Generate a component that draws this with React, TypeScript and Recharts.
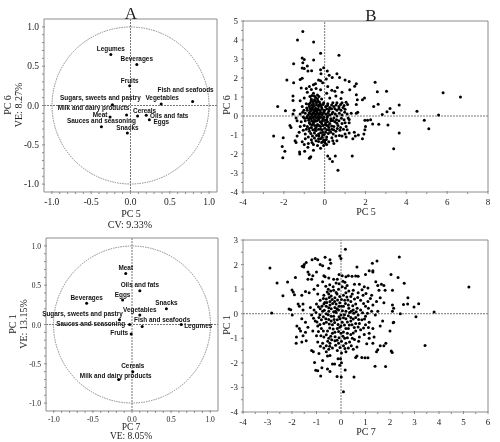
import { ScatterChart, Scatter, XAxis, YAxis, ReferenceLine, ReferenceDot, LabelList } from "recharts";

// loadings, panel A (PC5 / PC6) and panel C (PC7 / PC1)
const foodGroupsA = ["Legumes", "Beverages", "Fruits", "Fish and seafoods", "Vegetables", "Sugars, sweets and pastry", "Milk and dairy products", "Cereals", "Oils and fats", "Eggs", "Meat", "Sauces and seasoning", "Snacks"];
const pc5Load = [-0.25, 0.08, -0.01, 0.79, 0.39, -0.23, -0.05, 0.09, 0.2, 0.24, -0.26, -0.37, -0.04];
const pc6Load = [0.65, 0.52, 0.25, 0.05, 0.02, 0.01, -0.12, -0.135, -0.125, -0.18, -0.145, -0.27, -0.35];
const labelShiftA = [[0, -5], [0, -5], [0, -5], [-7, -11], [1, -6], [-12, -6], [-33, -7], [7, -5], [23, 1], [12, 3], [-10, -2], [0, -5], [0, -5]];

const foodGroupsC = ["Meat", "Oils and fats", "Eggs", "Beverages", "Snacks", "Vegetables", "Sugars, sweets and pastry", "Sauces and seasoning", "Fish and seafoods", "Legumes", "Fruits", "Cereals", "Milk and dairy products"];
const pc7Load = [-0.08, 0.1, -0.12, -0.58, 0.44, 0.1, -0.16, -0.03, 0.13, 0.63, -0.01, 0.01, -0.17];
const pc1Load = [0.65, 0.43, 0.31, 0.27, 0.2, 0.12, 0.06, 0, -0.025, 0, -0.12, -0.6, -0.7];
const labelShiftC = [[0, -5], [0, -5], [0, -5], [0, -5], [0, -5], [0, -5], [-37, -5], [-39, 0], [20, -6], [17, 2], [-12, -1], [0, -5], [-3, -3]];

// scores, panel B: PC5, PC6
const scoresB = [
  [-1.07, 4.45], [-1.33, 4.0], [-0.54, 3.9], [-0.2, 3.3], [0.7, 3.2], [-1.1, 3.05], [-1.0, 2.97], [-0.54, 2.95], [-1.52, 2.75], [-1.07, 2.8],
  [-0.85, 2.63], [-1.1, 2.52], [-1.0, 2.5], [-0.64, 2.38], [-0.82, 2.37], [-0.05, 2.54], [-0.2, 2.43], [0.13, 2.37], [-0.18, 2.23], [0.6, 2.23],
  [0.22, 2.14], [0.37, 2.02], [0.73, 2.02], [-1.85, 1.9], [-1.52, 1.75], [-1.2, 1.92], [-1.1, 1.99], [1.0, 1.9], [1.2, 1.82], [1.55, 1.7],
  [1.47, 1.56], [1.23, 1.38], [2.47, 1.78], [2.58, 1.28], [3.03, 1.3], [5.8, 1.22], [6.65, 1.0], [-0.3, 1.9], [-0.2, 1.85], [-0.45, 1.7],
  [-0.55, 1.65], [-0.1, 1.75], [0.08, 1.95], [-0.75, 1.55], [-0.9, 1.45], [-1.15, 1.48], [-0.85, 1.25], [-0.65, 1.4], [-0.42, 1.45], [-0.2, 1.38],
  [0.15, 1.55], [0.35, 1.35], [0.5, 1.3], [0.85, 1.25], [0.62, 1.5], [1.55, 1.12], [1.6, 0.85], [1.95, 0.95], [1.85, 0.85], [1.55, 0.6],
  [1.62, 0.2], [1.55, 0.15], [2.4, 0.5], [2.62, 0.62], [3.2, 0.4], [3.38, 0.17], [3.05, 0.22], [2.82, 0.08], [3.65, 0.58], [4.52, 0.25],
  [5.58, 0.05], [4.88, -0.23], [5.1, -0.67], [3.65, -0.9], [3.38, -1.72], [3.1, -0.47], [2.65, -0.43], [2.35, -0.42], [2.25, -0.2], [2.1, -0.22],
  [1.97, -0.22], [2.0, -0.55], [1.97, -0.72], [1.92, -0.95], [1.85, -1.2], [1.65, -1.0], [1.5, -1.05], [1.45, -0.85], [1.38, -1.2], [1.2, -0.9],
  [1.05, -1.1], [1.0, -0.95], [0.85, -1.05], [1.35, -2.1], [0.65, -2.85], [0.38, -2.4], [0.52, -2.1], [0.25, -2.25], [0.15, -2.1], [-0.55, -1.8],
  [-0.68, -2.15], [-0.72, -2.2], [-0.75, -2.22], [-1.23, -1.9], [-1.22, -2.0], [-0.98, -1.85], [-0.82, -1.65], [-1.95, -1.85], [-2.05, -2.2], [-2.08, -1.6],
  [-2.03, -1.15], [-2.5, -1.05], [-1.7, -0.5], [-1.65, -0.6], [-1.4, -0.1], [-1.35, -0.25], [-1.55, 0.1], [-1.5, 0.3], [-1.92, 0.27], [-2.3, 0.5],
  [-1.55, 0.82], [-1.55, 1.05], [-1.2, 0.8], [-1.0, 0.95], [-1.45, -1.3], [-1.35, -1.05], [-1.25, -0.85], [-1.4, -1.4], [-1.1, -1.35], [-1.0, -1.5],
  [-0.8, -1.45], [-0.65, -1.25], [-0.55, -1.5], [-0.35, -1.55], [-0.2, -1.7], [-0.05, -1.55], [0.1, -1.5], [0.45, -1.45], [0.6, -1.3], [0.2, -1.35],
  [-0.15, -1.4], [-0.3, -1.2], [-0.05, -1.25], [0.1, -1.1], [0.35, -1.15], [0.55, -1.05], [-0.6, -1.05], [-0.8, -1.1], [-0.95, -0.95], [-1.05, -0.75],
  [-0.75, -0.8], [-0.5, -0.9], [-0.3, -0.95], [-0.1, -1.0], [0.05, -0.85], [0.3, -0.85], [0.55, -0.8], [0.75, -0.75], [-1.0, -0.5], [-0.85, -0.55],
  [-0.65, -0.6], [-0.45, -0.65], [-0.2, -0.7], [0.0, -0.65], [0.2, -0.6], [0.45, -0.55], [0.65, -0.5], [0.85, -0.4], [1.05, -0.55], [1.2, -0.35],
  [-1.15, -0.3], [-0.95, -0.25], [-0.75, -0.35], [-0.55, -0.4], [-0.35, -0.45], [-0.15, -0.4], [0.05, -0.35], [0.25, -0.4], [0.5, -0.3], [0.7, -0.25],
  [0.95, -0.2], [1.15, -0.1], [-1.05, -0.05], [-0.85, -0.1], [-0.65, -0.15], [-0.5, -0.2], [-0.3, -0.2], [-0.1, -0.15], [0.1, -0.2], [0.3, -0.15],
  [0.45, -0.1], [0.6, 0.0], [0.85, 0.05], [1.1, 0.1], [1.3, 0.15], [-1.2, 0.1], [-0.95, 0.15], [-0.8, 0.05], [-0.62, 0.0], [-0.45, 0.05],
  [-0.3, 0.0], [-0.12, 0.05], [0.05, 0.1], [0.25, 0.05], [-0.85, 0.3], [-0.7, 0.25], [-0.55, 0.2], [-0.38, 0.25], [-0.2, 0.2], [0.0, 0.3],
  [0.2, 0.25], [0.4, 0.2], [0.6, 0.3], [0.8, 0.3], [1.0, 0.35], [-0.75, 0.5], [-0.6, 0.45], [-0.45, 0.42], [-0.3, 0.5], [-0.15, 0.45],
  [0.05, 0.5], [0.25, 0.45], [0.45, 0.5], [0.7, 0.5], [0.95, 0.55], [1.12, 0.6], [-0.9, 0.65], [-0.7, 0.7], [-0.55, 0.65], [-0.4, 0.7],
  [-0.22, 0.65], [-0.05, 0.7], [0.15, 0.65], [0.4, 0.7], [0.6, 0.7], [0.85, 0.7], [1.05, 0.72], [-0.65, 0.9], [-0.5, 0.85], [-0.35, 0.9],
  [-0.5, 1.05], [-0.35, 1.1], [-0.55, 1.2], [-0.15, 0.9], [0.25, 0.95], [0.8, 0.92], [0.1, 1.2], [0.55, 1.05], [-0.7, -0.05], [-0.55, -0.3],
  [-0.4, -0.55], [-0.25, -0.1], [-0.6, 0.35], [-0.4, 0.1], [-0.35, 0.35], [-0.5, -0.75], [-0.2, -0.55], [0.1, -0.5], [0.35, -0.7], [-0.42, -1.3],
  [-0.28, -1.05], [-0.12, -1.12], [0.02, -1.42], [-0.1, -0.85], [-0.9, -0.7], [-1.2, -0.55], [-0.95, -1.2], [0.72, -1.02], [0.4, -1.3], [0.3, -0.25],
  // dense middle of the cloud
  [-0.72, 1.02], [-0.62, 1.08], [-0.44, 0.98], [-0.28, 1.02], [-0.66, 0.82], [-0.58, 0.76], [-0.46, 0.78], [-0.34, 0.8], [-0.26, 0.74], [-0.78, 0.62],
  [-0.64, 0.56], [-0.52, 0.54], [-0.4, 0.58], [-0.28, 0.58], [-0.18, 0.55], [-0.08, 0.6], [-0.72, 0.4], [-0.66, 0.34], [-0.54, 0.33], [-0.48, 0.28],
  [-0.42, 0.32], [-0.3, 0.34], [-0.24, 0.3], [-0.12, 0.36], [-0.04, 0.22], [0.1, 0.38], [-0.76, 0.16], [-0.68, 0.12], [-0.58, 0.1], [-0.5, 0.14],
  [-0.36, 0.16], [-0.28, 0.12], [-0.2, 0.1], [-0.08, 0.14], [-0.86, -0.02], [-0.74, -0.12], [-0.56, -0.08], [-0.48, -0.04], [-0.4, -0.1], [-0.34, -0.06],
  [-0.18, -0.04], [-0.04, -0.06], [0.14, 0.0], [-0.78, -0.22], [-0.64, -0.26], [-0.46, -0.28], [-0.38, -0.25], [-0.22, -0.3], [-0.12, -0.28], [0.0, -0.22],
  [0.14, -0.3], [-0.7, -0.44], [-0.6, -0.48], [-0.48, -0.5], [-0.28, -0.5], [-0.08, -0.5], [0.02, -0.46], [0.18, -0.5], [0.34, -0.52], [-0.76, -0.66],
  [-0.58, -0.72], [-0.42, -0.76], [-0.3, -0.7], [-0.12, -0.72], [0.1, -0.72], [0.22, -0.75], [0.44, -0.72], [-0.68, -0.92], [-0.4, -1.02], [-0.2, -0.88],
  [-0.02, -0.98], [0.18, -0.92], [0.42, -0.95], [-0.5, -1.16], [-0.2, -1.2], [-0.08, -1.34], [0.08, -1.24], [-0.3, -1.34], [-0.62, -1.4], [0.0, -1.3],
  [0.16, 0.14], [0.36, 0.12], [0.52, 0.1], [0.72, 0.14], [0.98, 0.2], [0.12, -0.08], [0.22, 0.34], [0.34, 0.38], [0.5, 0.38], [0.7, 0.4],
  [0.9, 0.45], [0.14, 0.55], [0.34, 0.58], [0.56, 0.58], [0.78, 0.6], [1.2, -0.18], [1.0, -0.35], [0.82, -0.12], [0.58, -0.2], [0.4, -0.24],
  [0.6, -0.38], [0.78, -0.6], [0.92, -0.7], [1.1, -0.72], [0.62, -0.66], [-0.88, 0.42], [-1.02, 0.3], [-1.1, 0.5], [-0.98, -0.12], [-1.08, 0.2],
];

// scores, panel D: PC7, PC1
const scoresD = [
  [0.18, 2.62], [2.38, 2.31], [5.22, 1.09], [-2.9, 1.86], [-2.61, 1.25], [-2.18, 1.29], [-1.86, 1.47], [-2.37, 0.73], [-2.83, 0.03], [-2.0, 0.97],
  [-1.95, 0.88], [-1.9, 0.77], [-2.12, 0.19], [-2.05, 0.16], [-1.99, -0.05], [3.8, 0.07], [3.17, 0.41], [2.98, 0.27], [3.06, -0.12], [2.73, 0.65],
  [2.72, 0.4], [2.55, 0.37], [2.58, 1.24], [2.33, 1.47], [2.04, 1.6], [3.43, -1.29], [1.82, -2.15], [1.39, -2.14], [0.53, -2.58], [0.1, -3.18],
  [-0.16, -2.56], [0.01, -2.58], [-0.83, -2.53], [-1.03, -2.3], [-0.95, -2.32], [-0.78, -2.2], [-0.55, -2.25], [-0.45, -2.35], [-0.35, -2.05], [-0.26, -2.05],
  [-0.05, -2.1], [0.02, -2.0], [0.17, -2.29], [-1.08, -1.99], [-0.75, -1.9], [-0.12, -1.83], [-0.02, -1.83], [0.85, -1.78], [0.98, -1.79], [1.1, -1.79],
  [0.65, -1.72], [0.6, -1.78], [2.05, -1.52], [2.09, -1.58], [1.83, -1.2], [1.45, -1.55], [1.5, -1.47], [1.75, -1.3], [1.6, -1.3], [1.3, -1.2],
  [1.05, -1.22], [-1.2, -1.5], [-1.13, -1.55], [-1.83, -1.2], [-1.82, -0.95], [-1.6, -1.15], [-1.42, -1.1], [-1.55, -0.9], [-1.65, -0.7], [-1.8, -0.5],
  [-1.7, -0.6], [-1.35, -0.55], [-1.45, -0.75], [-1.6, 0.75], [-1.45, 0.9], [-1.55, 0.4], [-1.75, 0.4], [-1.7, 0.3], [-1.55, 0.15], [-1.6, -0.2],
  [-1.45, -0.35], [-1.3, 0.85], [-1.2, 1.4], [-1.1, 1.0], [-1.25, 0.25], [-1.5, 2.0], [-1.58, 1.93], [-1.52, 1.9], [-1.42, 2.08], [-1.18, 2.2],
  [-1.05, 2.25], [-0.95, 2.2], [-0.85, 2.0], [-0.75, 1.95], [-0.65, 2.3], [-0.45, 2.2], [-0.42, 2.05], [-0.5, 1.85], [-0.05, 2.35], [0.0, 2.25],
  [-1.35, 1.7], [-1.3, 1.6], [-1.15, 1.55], [-1.35, 1.4], [-1.0, 1.7], [-0.7, 1.55], [-0.65, 1.5], [-0.95, 1.15], [-0.75, 1.3], [-0.5, 1.45],
  [-0.3, 1.4], [-0.2, 1.25], [-0.08, 1.6], [0.05, 1.55], [0.2, 1.5], [0.3, 1.55], [0.45, 1.52], [0.6, 1.53], [0.7, 1.52], [0.65, 1.9],
  [1.0, 1.6], [1.15, 1.75], [1.3, 1.7], [1.3, 1.75], [1.28, 2.05], [1.47, 2.15], [1.42, 1.3], [1.5, 1.15], [1.65, 1.2], [1.75, 1.15],
  [1.8, 0.95], [1.55, 0.95], [2.1, 0.95], [2.1, 0.35], [2.15, 0.22], [2.1, 0.1], [2.42, 0.0], [2.13, -0.37], [2.0, -0.7], [2.15, -0.35],
  [1.6, 0.65], [1.75, 0.45], [1.45, 0.5], [1.25, 0.75], [1.1, 1.05], [0.95, 1.1], [0.75, 1.2], [0.55, 1.2], [0.5, 0.95], [0.7, 0.85],
  [0.9, 0.75], [1.1, 0.5], [1.3, 0.35], [1.5, 0.1], [1.4, -0.05], [1.7, -0.3], [1.6, -0.5], [1.3, -0.6], [1.15, -0.35], [1.0, -0.1],
  [0.8, 0.15], [0.6, 0.4], [0.4, 0.7], [0.2, 0.85], [0.05, 1.1], [-0.1, 1.0], [-0.3, 0.95], [-0.5, 0.8], [-0.7, 0.75], [-0.85, 0.55],
  [-1.0, 0.4], [-1.1, 0.15], [-1.2, -0.05], [-1.05, -0.3], [-0.9, -0.15], [-0.75, 0.1], [-0.6, 0.3], [-0.45, 0.5], [-0.25, 0.65], [-0.05, 0.7],
  [0.15, 0.55], [0.3, 0.35], [0.5, 0.15], [0.7, -0.05], [0.85, -0.25], [1.0, -0.45], [0.8, -0.65], [0.6, -0.4], [0.4, -0.15], [0.2, 0.1],
  [0.02, 0.3], [-0.2, 0.4], [-0.4, 0.2], [-0.6, 0.0], [-0.8, -0.25], [-0.95, -0.5], [-1.15, -0.7], [-1.0, -0.9], [-0.8, -0.6], [-0.6, -0.35],
  [-0.4, -0.1], [-0.2, 0.05], [0.0, -0.05], [0.2, -0.2], [0.45, -0.45], [0.6, -0.7], [0.4, -0.85], [0.2, -0.6], [0.05, -0.35], [-0.15, -0.25],
  [-0.35, -0.45], [-0.55, -0.7], [-0.7, -0.95], [-0.5, -1.0], [-0.35, -0.8], [-0.15, -0.6], [0.0, -0.8], [0.15, -1.0], [0.35, -1.15], [0.55, -1.05],
  [0.75, -0.95], [0.95, -0.85], [1.15, -0.8], [1.35, -0.95], [-0.95, -1.15], [-0.75, -1.2], [-0.6, -1.3], [-0.45, -1.2], [-0.25, -1.1], [-0.1, -1.2],
  [0.1, -1.3], [0.3, -1.4], [0.5, -1.45], [0.65, -1.35], [-0.7, -1.4], [-0.6, -1.55], [-0.5, -1.45], [-0.35, -1.4], [-0.15, -1.5], [0.02, -1.6],
  [0.2, -1.55], [-0.9, -1.62], [-0.55, -1.72], [-0.45, -1.7], [-0.4, -0.3], [-0.3, -0.1], [-0.5, 0.1], [-0.1, 0.15], [0.1, 0.3], [0.35, 0.05],
  [-0.25, 0.25], [-0.7, 0.4], [-0.85, 0.2], [-0.95, 0.8], [-0.6, 0.6], [0.55, 0.6], [0.8, 0.55], [1.0, 0.3], [1.25, 0.1], [1.15, -1.0],
  [0.3, -0.6], [-0.05, -0.55], [-0.25, -0.75], [0.6, -0.15], [0.75, -0.4], [-0.45, 0.35], [-0.05, 0.45], [0.1, 0.75], [0.25, 1.15], [-0.15, 1.4],
  // dense middle of the cloud
  [-0.62, 1.12], [-0.46, 1.18], [-0.32, 1.1], [-0.52, 1.0], [-0.42, 0.92], [-0.2, 0.86], [-0.08, 1.22], [0.08, 1.32], [0.16, 1.28], [0.18, 1.05],
  [-0.72, 0.62], [-0.48, 0.66], [-0.36, 0.58], [-0.14, 0.56], [0.02, 0.58], [0.24, 0.68], [0.4, 0.5], [0.68, 0.66], [0.86, 0.98], [1.02, 0.82],
  [-0.92, 0.28], [-0.78, 0.3], [-0.58, 0.46], [-0.5, 0.24], [-0.34, 0.42], [-0.26, 0.5], [-0.08, 0.3], [0.18, 0.42], [0.32, 0.22], [0.48, 0.32],
  [0.66, 0.22], [0.92, 0.42], [1.12, 0.22], [1.2, 0.62], [-1.02, 0.05], [-0.86, -0.04], [-0.68, 0.14], [-0.52, -0.04], [-0.3, 0.08], [-0.16, 0.2],
  [0.06, 0.12], [0.14, -0.04], [0.3, -0.08], [0.52, 0.02], [0.62, 0.08], [0.88, 0.04], [1.08, 0.02], [-1.12, -0.18], [-0.98, -0.34], [-0.72, -0.12],
  [-0.62, -0.2], [-0.5, -0.24], [-0.28, -0.24], [-0.08, -0.12], [0.1, -0.16], [0.26, -0.34], [0.4, -0.3], [0.5, -0.22], [0.72, -0.24], [0.96, -0.22],
  [-0.86, -0.44], [-0.7, -0.4], [-0.48, -0.42], [-0.26, -0.36], [-0.12, -0.44], [0.0, -0.5], [0.14, -0.46], [0.34, -0.46], [0.54, -0.56], [0.7, -0.54],
  [0.92, -0.58], [1.12, -0.56], [-0.92, -0.72], [-0.72, -0.7], [-0.46, -0.58], [-0.32, -0.62], [-0.1, -0.72], [0.1, -0.74], [0.26, -0.8], [0.5, -0.78],
  [-0.82, -0.9], [-0.6, -0.86], [-0.42, -0.92], [-0.24, -0.94], [-0.08, -0.98], [0.08, -0.92], [0.26, -0.98], [0.46, -1.0], [0.72, -1.12], [-0.84, -1.32],
  [-0.54, -1.12], [-0.38, -1.06], [-0.16, -1.08], [0.02, -1.12], [0.2, -1.2], [-0.46, -1.32], [-0.22, -1.28], [-0.04, -1.38], [0.16, -1.42], [0.42, -1.3],
  [-0.4, 0.72], [-0.16, 0.8], [0.32, 0.92], [0.46, 0.8], [0.28, 0.56], [-0.56, 0.88], [-0.66, 0.46], [-0.22, 0.1], [-0.04, -0.2], [0.42, 0.1],
];

const boxStyle = { position: "absolute", fontFamily: "'Liberation Serif', serif", color: "#222", whiteSpace: "nowrap" } as const;
const frameColor = "#8c8c8c";

const toPoints = (xs: number[], ys: number[], names: string[]) => xs.map((x, i) => ({ x, y: ys[i], name: names[i] }));
const asPoints = (rows: number[][]) => rows.map(([x, y]) => ({ x, y }));

const Dot = (props: any) => <circle cx={props.cx} cy={props.cy} r={1.5} fill="#000" />;

// axis ticks sit inside the frame, only the listed values get a number
const bottomTick = (labels: number[], size: number, digits: number, drop = 11) => ({ x, y, payload }: any) => {
  const major = labels.includes(payload.value);
  return (
    <g>
      <line x1={x} x2={x} y1={y} y2={y - (major ? 3 : 2)} stroke={frameColor} />
      {major && <text x={x} y={y + drop} textAnchor="middle" fontSize={size} fontFamily="'Liberation Serif', serif" fill="#222">{payload.value.toFixed(digits)}</text>}
    </g>
  );
};
const leftTick = (labels: number[], size: number, digits: number) => ({ x, y, payload }: any) => {
  const major = labels.includes(payload.value);
  return (
    <g>
      <line x1={x} x2={x + (major ? 3 : 2)} y1={y} y2={y} stroke={frameColor} />
      {major && <text x={x - 3} y={y + 3} textAnchor="end" fontSize={size} fontFamily="'Liberation Serif', serif" fill="#222">{payload.value.toFixed(digits)}</text>}
    </g>
  );
};
const topTick = ({ x, y }: any) => <line x1={x} x2={x} y1={y} y2={y + 2} stroke={frameColor} />;
const rightTick = ({ x, y }: any) => <line x1={x} x2={x - 2} y1={y} y2={y} stroke={frameColor} />;

const FrameAxes = ({ xDomain, yDomain, xMinor, yMinor }: any) => [
  <XAxis key="t" xAxisId="top" orientation="top" type="number" domain={xDomain} ticks={xMinor} interval={0} height={1} tickSize={0} tick={topTick} stroke={frameColor} />,
  <YAxis key="r" yAxisId="right" orientation="right" type="number" domain={yDomain} ticks={yMinor} interval={0} width={1} tickSize={0} tick={rightTick} stroke={frameColor} />,
];

const loadTicks = [-1, -0.5, 0, 0.5, 1];
const loadMinor = [-1, -0.9, -0.8, -0.7, -0.6, -0.5, -0.4, -0.3, -0.2, -0.1, 0, 0.1, 0.2, 0.3, 0.4, 0.5, 0.6, 0.7, 0.8, 0.9, 1];

const LoadingChart = ({ left, top, width, height, margin, yWidth, data, shifts, fontSize, drop }: any) => {
  const domain = [-1.1, 1.1];
  return (
    <div style={{ position: "absolute", left, top }}>
      <ScatterChart width={width} height={height} margin={margin}>
        <XAxis type="number" dataKey="x" domain={domain} ticks={loadMinor} interval={0} tick={bottomTick(loadTicks, fontSize, 1, drop)} tickSize={0} height={28} stroke={frameColor} />
        <YAxis type="number" dataKey="y" domain={domain} ticks={loadMinor} interval={0} tick={leftTick(loadTicks, fontSize, 1)} tickSize={0} width={yWidth} stroke={frameColor} />
        {FrameAxes({ xDomain: domain, yDomain: domain, xMinor: loadMinor, yMinor: loadMinor })}
        <ReferenceLine x={0} stroke="#777" strokeDasharray="2 1" />
        <ReferenceLine y={0} segment={[{ x: -1, y: 0 }, { x: 1, y: 0 }]} stroke="#777" strokeDasharray="2 1" />
        <ReferenceDot x={0} y={0} r={78.5} fill="none" stroke="#888" strokeDasharray="1.5 1" />
        <Scatter data={data} shape={Dot} isAnimationActive={false}>
          <LabelList
            dataKey="name"
            content={(p: any) => (
              <text x={p.x + p.width / 2 + shifts[p.index][0]} y={p.y + p.height / 2 + shifts[p.index][1]} textAnchor="middle" dominantBaseline="middle" fontSize={6.4} fontWeight="bold" fontFamily="'Liberation Sans', sans-serif" fill="#111">
                {p.value}
              </text>
            )}
          />
        </Scatter>
      </ScatterChart>
    </div>
  );
};

const ScoreChart = ({ left, top, width, height, margin, data, xDomain, yDomain, xMinor, yMinor, xLabels, yLabels }: any) => (
  <div style={{ position: "absolute", left, top }}>
    <ScatterChart width={width} height={height} margin={margin}>
      <XAxis type="number" dataKey="x" domain={xDomain} ticks={xMinor} interval={0} tick={bottomTick(xLabels, 9, 0)} tickSize={0} height={28} stroke={frameColor} />
      <YAxis type="number" dataKey="y" domain={yDomain} ticks={yMinor} interval={0} tick={leftTick(yLabels, 9, 0)} tickSize={0} width={14} stroke={frameColor} />
      {FrameAxes({ xDomain, yDomain, xMinor, yMinor })}
      <ReferenceLine x={0} stroke="#777" strokeDasharray="2 1" />
      <ReferenceLine y={0} stroke="#777" strokeDasharray="2 1" />
      <Scatter data={data} shape={Dot} isAnimationActive={false} />
    </ScatterChart>
  </div>
);

const Caption = ({ x, y, size = 10, rotate, children }: any) => (
  <div style={{ ...boxStyle, left: x, top: y, fontSize: size, lineHeight: 1, transform: `translate(-50%, -50%)${rotate ? " rotate(-90deg)" : ""}` }}>{children}</div>
);

export default function App() {
  return (
    <div style={{ position: "absolute", left: 0, top: 0, width: 500, height: 442, background: "#fff", overflow: "hidden", filter: "blur(0.3px)" }}>
      <LoadingChart left={0} top={0} width={240} height={220} margin={{ top: 18, right: 22, bottom: 0, left: 0 }} yWidth={44} data={toPoints(pc5Load, pc6Load, foodGroupsA)} shifts={labelShiftA} fontSize={9.5} />
      <ScoreChart left={226} top={0} width={270} height={220} margin={{ top: 20, right: 7, bottom: 0, left: 3 }} data={asPoints(scoresB)} xDomain={[-4, 8]} yDomain={[-4, 5]} xMinor={[-4, -3, -2, -1, 0, 1, 2, 3, 4, 5, 6, 7, 8]} yMinor={[-4, -3.5, -3, -2.5, -2, -1.5, -1, -0.5, 0, 0.5, 1, 1.5, 2, 2.5, 3, 3.5, 4, 4.5, 5]} xLabels={[-4, -2, 0, 2, 4, 6, 8]} yLabels={[-4, -3, -2, -1, 0, 1, 2, 3, 4, 5]} />
      <LoadingChart left={0} top={220} width={240} height={219} margin={{ top: 17, right: 21, bottom: 0, left: 0 }} yWidth={46} data={toPoints(pc7Load, pc1Load, foodGroupsC)} shifts={labelShiftC} fontSize={7.5} drop={9} />
      <ScoreChart left={226} top={220} width={270} height={220} margin={{ top: 19, right: 7, bottom: 0, left: 3 }} data={asPoints(scoresD)} xDomain={[-4, 6]} yDomain={[-4, 3]} xMinor={[-4, -3.5, -3, -2.5, -2, -1.5, -1, -0.5, 0, 0.5, 1, 1.5, 2, 2.5, 3, 3.5, 4, 4.5, 5, 5.5, 6]} yMinor={[-4, -3.5, -3, -2.5, -2, -1.5, -1, -0.5, 0, 0.5, 1, 1.5, 2, 2.5, 3]} xLabels={[-4, -3, -2, -1, 0, 1, 2, 3, 4, 5, 6]} yLabels={[-4, -3, -2, -1, 0, 1, 2, 3]} />

      <Caption x={131} y={13} size={17}>A</Caption>
      <Caption x={371} y={15} size={17}>B</Caption>
      <Caption x={131} y={214}>PC 5</Caption>
      <Caption x={130} y={225}>CV: 9.33%</Caption>
      <Caption x={8} y={105} rotate>PC 6</Caption>
      <Caption x={19} y={105} rotate>VE: 8.27%</Caption>
      <Caption x={366} y={212}>PC 5</Caption>
      <Caption x={131} y={427.5} size={9.5}>PC 7</Caption>
      <Caption x={131} y={437} size={9.5}>VE: 8.05%</Caption>
      <Caption x={13} y={324} rotate>PC 1</Caption>
      <Caption x={24} y={324} rotate>VE: 13.15%</Caption>
      <Caption x={366} y={432}>PC 7</Caption>
      <Caption x={227} y={105} rotate>PC 6</Caption>
      <Caption x={227} y={325} rotate>PC 1</Caption>
    </div>
  );
}
